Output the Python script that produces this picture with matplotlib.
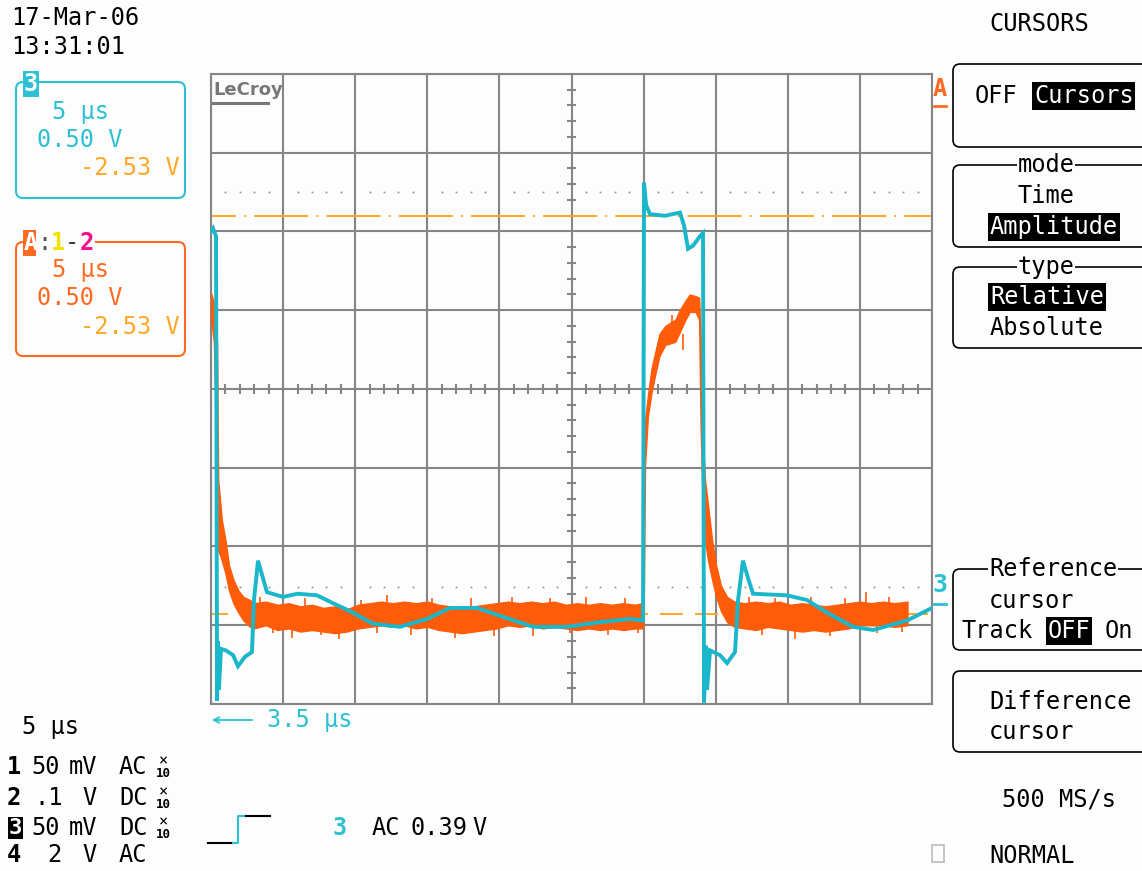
import matplotlib.pyplot as plt
from matplotlib.patches import FancyBboxPatch, Rectangle

# channel 3 (cyan), time in us (5 us/div), volts (0.5 V/div)
ch3_t = [0.00, 0.14, 0.35, 0.42, 0.49, 0.55, 0.69, 1.04, 1.53, 1.87, 2.36, 2.84,
         2.98, 3.26, 3.54, 3.88, 4.99, 6.00, 7.35, 8.46, 9.64, 11.23, 13.11, 14.98,
         16.57, 18.45, 20.04, 22.33, 24.69, 26.98, 29.06, 29.96,
         30.03, 30.17, 30.44, 31.48, 32.52, 32.80, 33.08, 33.43, 33.91, 34.12,
         34.19, 34.33, 34.40, 34.61, 35.30, 35.79, 36.34, 36.55, 36.89, 37.24,
         37.59, 39.94, 41.33, 42.72, 44.52, 45.91, 48.27, 50.00]
ch3_v = [1.00, 1.02, 0.97, -1.98, -1.60, -1.91, -1.65, -1.66, -1.69, -1.76, -1.70, -1.67,
         -1.34, -1.09, -1.18, -1.29, -1.32, -1.30, -1.31, -1.36, -1.41, -1.49, -1.51, -1.46,
         -1.39, -1.39, -1.44, -1.51, -1.51, -1.48, -1.46, -1.47,
         1.31, 1.17, 1.11, 1.10, 1.12, 1.04, 0.89, 0.91, 0.97, 0.99,
         -1.99, -1.63, -1.91, -1.66, -1.69, -1.74, -1.67, -1.34, -1.09, -1.20,
         -1.30, -1.31, -1.34, -1.42, -1.51, -1.53, -1.47, -1.39]

# math trace A = 1-2 (orange), noisy band read as upper / lower edge
a_t = [0.00, 0.20, 0.35, 0.42, 0.50, 0.75, 1.00, 1.25, 1.55, 1.90, 2.25, 2.70,
       3.0, 3.8, 4.6, 5.4, 6.2, 7.0, 7.8, 8.6, 9.4, 10.2, 11.0, 11.8, 12.6, 13.4,
       14.2, 15.0, 15.8, 16.6, 17.4, 18.2, 19.0, 19.8, 20.6, 21.4, 22.2, 23.0,
       23.8, 24.6, 25.4, 26.2, 27.0, 27.8, 28.6, 29.4, 29.9,
       30.0, 30.1, 30.3, 30.55, 30.85, 31.1, 31.5, 31.85, 32.2, 32.5, 32.9, 33.2,
       33.6, 33.85, 33.95, 34.05, 34.26, 34.47, 34.75, 35.03, 35.37, 35.79, 36.3,
       37.0, 37.8, 38.6, 39.4, 40.2, 41.0, 41.8, 42.6, 43.4, 44.2, 45.0, 45.8,
       46.6, 47.4, 48.3]
a_hi = [0.61, 0.55, 0.32, 0.30, -0.58, -0.83, -0.96, -1.12, -1.21, -1.28, -1.32, -1.34,
        -1.36, -1.35, -1.37, -1.36, -1.38, -1.37, -1.39, -1.38, -1.40, -1.37, -1.36, -1.35,
        -1.36, -1.35, -1.36, -1.35, -1.37, -1.38, -1.39, -1.38, -1.37, -1.36, -1.35, -1.36,
        -1.35, -1.36, -1.35, -1.37, -1.36, -1.37, -1.36, -1.37, -1.36, -1.37, -1.36,
        -0.26, -0.20, -0.04, 0.13, 0.25, 0.35, 0.40, 0.42, 0.44, 0.50, 0.56, 0.60,
        0.59, 0.58, 0.32, -0.20, -0.58, -0.74, -0.96, -1.12, -1.25, -1.32, -1.35,
        -1.36, -1.35, -1.36, -1.35, -1.37, -1.36, -1.37, -1.38, -1.37, -1.36, -1.35, -1.36,
        -1.35, -1.36, -1.35]
a_lo = [0.45, 0.30, -0.30, -0.60, -1.02, -1.09, -1.17, -1.28, -1.36, -1.42, -1.47, -1.51,
        -1.52, -1.50, -1.53, -1.52, -1.54, -1.53, -1.54, -1.55, -1.54, -1.52, -1.51, -1.50,
        -1.51, -1.50, -1.52, -1.51, -1.53, -1.54, -1.55, -1.54, -1.53, -1.52, -1.50, -1.51,
        -1.50, -1.52, -1.51, -1.52, -1.53, -1.52, -1.53, -1.52, -1.53, -1.52, -1.52,
        -1.50, -0.48, -0.17, -0.02, 0.11, 0.21, 0.28, 0.29, 0.30, 0.36, 0.44, 0.49,
        0.49, 0.44, -0.22, -0.60, -0.96, -1.09, -1.21, -1.32, -1.41, -1.48, -1.51,
        -1.52, -1.53, -1.51, -1.52, -1.53, -1.54, -1.53, -1.54, -1.53, -1.52, -1.50, -1.50,
        -1.50, -1.51, -1.50]

# noise spikes sticking out of the orange band (tip levels, volts)
spike_t = [3.4, 4.3, 5.6, 6.5, 7.6, 8.9, 10.4, 11.5, 12.2, 13.9, 15.3, 16.9,
           18.0, 19.6, 20.9, 22.3, 23.5, 24.9, 26.0, 27.5, 28.7, 29.6,
           31.2, 32.0, 32.7, 37.3, 38.2, 39.1, 40.5, 41.6, 42.9, 44.0,
           45.4, 46.2, 47.0, 47.9]
spike_v = [-1.32, -1.55, -1.58, -1.33, -1.56, -1.59, -1.34, -1.55, -1.31, -1.56, -1.33, -1.58,
           -1.33, -1.57, -1.32, -1.57, -1.33, -1.55, -1.32, -1.56, -1.33, -1.55,
           0.23, 0.47, 0.25, -1.32, -1.56, -1.33, -1.59, -1.32, -1.57, -1.33,
           -1.29, -1.55, -1.32, -1.54]

cursor_dif = 1.10    # dash-dot amplitude cursor
cursor_ref = -1.43   # dashed reference cursor

W, H = 1142, 871
GRID = '#858585'
CYAN = '#1ab6ca'
CYAN_TXT = '#2cc0d2'
ORANGE = '#ff5c0a'
ORANGE_TXT = '#ff6a22'
AMBER = '#ffa726'
MONO = 'DejaVu Sans Mono'
FS = 17

plt.rcParams['lines.scale_dashes'] = False
plt.rcParams['font.family'] = MONO

fig = plt.figure(figsize=(W / 100, H / 100), dpi=100, facecolor='#fdfdfd')

# pixel-space layer for the screen furniture
bg = fig.add_axes([0, 0, 1, 1])
bg.set_xlim(0, W)
bg.set_ylim(H, 0)
bg.axis('off')

ax = fig.add_axes([211 / W, 1 - 704 / H, 721 / W, 630 / H])
ax.set_facecolor('none')
ax.set_xlim(0, 50)
ax.set_ylim(-2, 2)
ax.set_xticks(range(0, 51, 5))
ax.set_yticks([-2 + 0.5 * i for i in range(9)])
ax.grid(color=GRID, lw=1.5)
ax.tick_params(length=0, labelbottom=False, labelleft=False)
for s in ax.spines.values():
    s.set_color(GRID)
    s.set_linewidth(1.5)

# centre cross minor ticks and dotted rows
minor_t = [t for t in range(1, 50) if t % 5]
minor_v = [round(-2 + 0.1 * i, 2) for i in range(1, 40) if i % 5]
ax.vlines(minor_t, -0.03, 0.03, color=GRID, lw=1.5)
ax.hlines(minor_v, 25 - 0.3, 25 + 0.3, color=GRID, lw=1.5)
for lev in (1.25, -1.26):
    ax.plot(minor_t, [lev] * len(minor_t), ls='none', marker='s', ms=1.3,
            color='#999999', mec='none')

# cursors
ax.axhline(cursor_dif, color=AMBER, lw=1.4, ls=(20.9, (39, 5.8, 1.4, 5.8)), zorder=2)
ax.axhline(cursor_ref, color=AMBER, lw=1.4, ls=(4.3, (16.5, 8.7)), zorder=2)

# traces
ax.fill_between(a_t, a_lo, a_hi, color=ORANGE, lw=1.0, zorder=3)
spike_base = [0.35 if v > 0 else -1.44 for v in spike_v]
ax.vlines(spike_t, spike_base, spike_v, color=ORANGE, lw=1.2, zorder=3)
ax.plot(ch3_t, ch3_v, color=CYAN, lw=2.8, zorder=4, solid_joinstyle='miter')


def txt(x, y, s, color='black', size=FS, **kw):
    kw.setdefault('ha', 'left')
    bg.text(x, y, s, color=color, fontsize=size, va='center', family=MONO, **kw)


def inv(x, y, s, fc='black', tc='white', size=FS, pad=1.2, **kw):
    txt(x, y, s, color=tc, size=size,
        bbox=dict(facecolor=fc, edgecolor='none', pad=pad), **kw)


def box(x, y, w, h, color='black', lw=1.2):
    bg.add_patch(FancyBboxPatch((x, y), w, h, boxstyle='round,pad=0,rounding_size=7',
                                fill=False, ec=color, lw=lw))


# date / time
txt(11, 18, '17-Mar-06')
txt(11, 47, '13:31:01')

# channel 3 box
box(16, 82, 169, 116, CYAN_TXT, 1.5)
inv(24, 84, '3', fc=CYAN_TXT, size=17, pad=0.8, weight='bold')
txt(52, 112, '5 µs', CYAN_TXT)
txt(37, 140, '0.50 V', CYAN_TXT)
txt(80, 168, '-2.53 V', AMBER)

# math A box
box(16, 242, 169, 114, ORANGE_TXT, 1.5)
inv(24, 243, 'A', fc=ORANGE_TXT, size=17, pad=0.8, weight='bold')
white = dict(facecolor='#fdfdfd', edgecolor='none', pad=0.5)
txt(37, 243, ':', '#555555', bbox=white)
txt(51, 243, '1', '#f2e200', weight='bold', bbox=white)
txt(65, 243, '-', '#333333', bbox=white)
txt(80, 243, '2', '#ff0a8c', weight='bold', bbox=white)
txt(52, 270, '5 µs', ORANGE_TXT)
txt(37, 298, '0.50 V', ORANGE_TXT)
txt(80, 327, '-2.53 V', AMBER)

# LeCroy logo
bg.text(213, 90, 'LeCroy', color='#777777', fontsize=13, weight='bold',
        family='DejaVu Sans', va='center')
bg.plot([213, 268], [103, 103], color='#777777', lw=2.2)

# trace markers at right edge of grid
bg.text(940, 89, 'A', color=ORANGE_TXT, fontsize=17, weight='bold', ha='center', va='center')
bg.plot([934, 946], [106, 106], color=ORANGE_TXT, lw=2)
bg.text(940, 585, '3', color=CYAN_TXT, fontsize=18, weight='bold', ha='center', va='center')
bg.plot([934, 946], [604, 604], color=CYAN_TXT, lw=2)

# menu
txt(1039, 24, 'CURSORS', ha='center')
box(953, 64, 230, 83)
txt(975, 96, 'OFF')
inv(1034, 96, 'Cursors')
box(953, 165, 230, 82)
txt(1046, 165, 'mode', ha='center', bbox=white)
txt(1046, 196, 'Time', ha='center')
inv(990, 227, 'Amplitude')
box(953, 267, 230, 81)
txt(1046, 267, 'type', ha='center', bbox=white)
inv(990, 297, 'Relative')
txt(990, 328, 'Absolute')
box(953, 569, 230, 81)
txt(989, 569, 'Reference', bbox=white)
txt(989, 601, 'cursor')
txt(962, 631, 'Track')
inv(1048, 631, 'OFF')
txt(1105, 631, 'On')
box(953, 671, 230, 81)
txt(989, 702, 'Difference')
txt(989, 732, 'cursor')
txt(1002, 799, '500 MS/s')
bg.add_patch(Rectangle((932, 845), 12, 17, fill=False, ec='#bbbbbb', lw=1.2))
txt(989, 856, 'NORMAL')

# timebase & channel setup
bg.annotate('', xy=(209, 720), xytext=(255, 720),
            arrowprops=dict(arrowstyle='->', color=CYAN_TXT, lw=1.3))
txt(267, 720, '3.5 µs', CYAN_TXT)
txt(22, 727, '5 µs')

rows = [767, 798, 828, 855]
txt(7, rows[0], '1', weight='bold')
txt(7, rows[1], '2', weight='bold')
inv(9, rows[2], '3', size=16, pad=0.6, weight='bold')
txt(7, rows[3], '4', weight='bold')
txt(31, rows[0], '50')
txt(69, rows[0], 'mV')
txt(34, rows[1], '.1')
txt(82, rows[1], 'V')
txt(31, rows[2], '50')
txt(69, rows[2], 'mV')
txt(47, rows[3], '2')
txt(82, rows[3], 'V')
for r, c in zip(rows, ['AC', 'DC', 'DC', 'AC']):
    txt(119, r, c)
for r in rows[:3]:
    txt(163, r - 6, '×', size=11, ha='center')
    txt(163, r + 6, '10', size=9, ha='center', weight='bold')

# trigger symbol
bg.plot([208, 233], [843, 843], color='black', lw=1.5)
bg.plot([233, 238, 238, 246], [843, 843, 816, 816], color=CYAN_TXT, lw=1.5)
bg.plot([246, 270], [816, 816], color='black', lw=1.5)
txt(333, 828, '3', CYAN_TXT, weight='bold')
txt(372, 828, 'AC')
txt(410, 828, '0.39')
txt(472, 828, 'V')

fig.savefig('out.png', dpi=100, facecolor=fig.get_facecolor())
